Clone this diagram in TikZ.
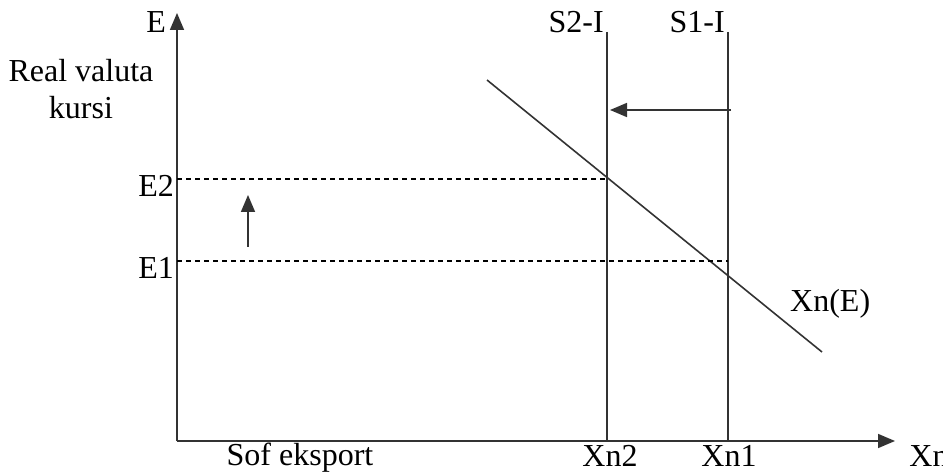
\documentclass[tikz,border=0pt]{standalone}
\usepackage{fontspec}
\setmainfont{Liberation Serif}
\usetikzlibrary{arrows.meta}
\begin{document}
\begin{tikzpicture}[x=1pt,y=-1pt,
  ln/.style={line width=1.6pt,draw=black!80},
  dsh/.style={line width=1.2pt,dash pattern=on 5pt off 4pt},
  tip/.style={-{Triangle[length=17pt,width=14pt]}},
  lbl/.style={inner sep=0pt,font=\fontsize{32}{37}\selectfont}]
\useasboundingbox (0,0) rectangle (943,473);
\coordinate (O) at (177,441);
\coordinate (Ytop) at (177,13);
\coordinate (Xend) at (895,441);
\draw[ln,tip] (O) -- (Ytop);
\draw[ln,tip] (O) -- (Xend);
% vertical supply lines
\coordinate (S2t) at (607,32);
\coordinate (S2b) at (607,441);
\coordinate (S1t) at (728,32);
\coordinate (S1b) at (728,441);
\draw[ln] (S2t) -- (S2b);
\draw[ln] (S1t) -- (S1b);
% demand line
\coordinate (Da) at (487,80);
\coordinate (Db) at (822,352);
\draw[ln] (Da) -- (Db);
% dashed levels
\coordinate (E2a) at (177,179);
\coordinate (E2b) at (607,179);
\coordinate (E1a) at (177,261);
\coordinate (E1b) at (728,261);
\draw[dsh] (E2a) -- (E2b);
\draw[dsh] (E1a) -- (E1b);
% shift arrow
\coordinate (Ha) at (731,110);
\coordinate (Hb) at (610,110);
\draw[ln,tip] (Ha) -- (Hb);
% up arrow
\coordinate (Ua) at (248,247);
\coordinate (Ub) at (248,195);
\draw[ln,tip] (Ua) -- (Ub);
% labels
\node[lbl,anchor=east] (lE) at (166,22) {E};
\node[lbl,align=center] (lR) at (81,89) {Real valuta\\kursi};
\node[lbl,anchor=east] (lE2) at (174,186) {E2};
\node[lbl,anchor=east] (lE1) at (174,268) {E1};
\node[lbl,anchor=east] (lS2) at (604,22) {S2-I};
\node[lbl,anchor=east] (lS1) at (725,22) {S1-I};
\node[lbl,anchor=west] (lXnE) at (790,304) {Xn(E)};
\node[lbl,anchor=base] (lSof) at (300,465) {Sof eksport};
\node[lbl,anchor=base] (lXn2) at (610,466) {Xn2};
\node[lbl,anchor=base] (lXn1) at (729,466) {Xn1};
\node[lbl,anchor=base] (lXn) at (929,466) {Xn};
\end{tikzpicture}
\end{document}
